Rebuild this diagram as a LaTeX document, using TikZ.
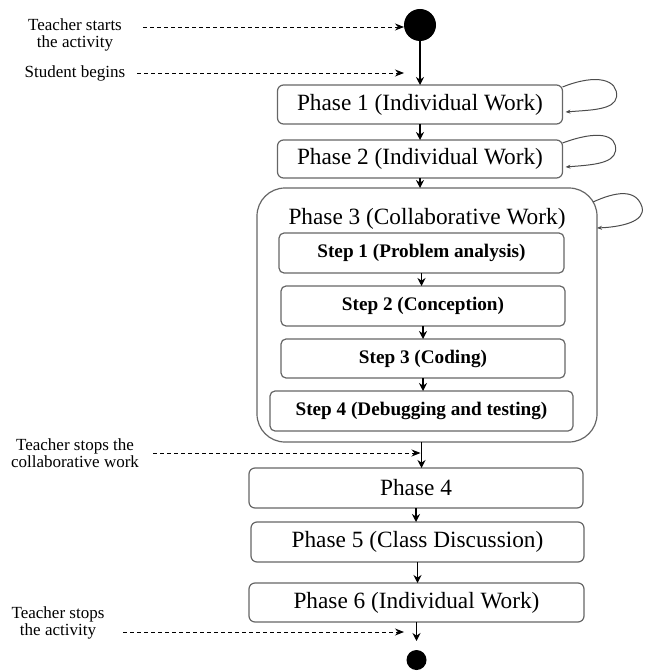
\documentclass[tikz,border=0pt]{standalone}
\usepackage{fontspec}
\setmainfont{Liberation Serif}
\usetikzlibrary{positioning,arrows.meta}

\begin{document}
\begin{tikzpicture}[
    x=1pt,
    y=-1pt,
    >=Stealth,
    every node/.style={align=center, outer sep=0pt},
    phase/.style={draw=black!60, line width=1.2pt, rectangle, rounded corners=6pt,
        font=\fontsize{23.3}{26}\selectfont},
    stepbox/.style={draw=black!60, line width=1.2pt, rectangle, rounded corners=5pt,
        minimum height=40pt, font=\fontsize{19.2}{22}\selectfont\bfseries},
    note/.style={font=\fontsize{17}{17}\selectfont},
    flow/.style={-{Stealth[length=8pt,width=8pt]}, line width=1.2pt},
    hint/.style={-{Stealth[length=9pt,width=7pt]}, line width=0.9pt, dash pattern=on 4pt off 3pt},
    selfloop/.style={-{Stealth[length=5pt,width=4pt]}, line width=1pt, draw=black!70}
]

\useasboundingbox (0,0) rectangle (646,671);

% Start
\node[circle, fill=black, minimum size=32pt, inner sep=0pt] (start) at (420,25) {};

% Phases 1 and 2
\node[
    phase,
    minimum width=285pt,
    minimum height=39pt,
    below=44pt of start
] (ph1) {Phase 1 (Individual Work)};

\node[
    phase,
    minimum width=285pt,
    minimum height=38pt,
    below=16pt of ph1
] (ph2) {Phase 2 (Individual Work)};

% Phase 3 with its steps
\node[
    phase,
    rounded corners=28pt,
    minimum width=340pt,
    minimum height=254pt,
    below=10pt of ph2,
    xshift=7pt
] (ph3) {};

\node[
    font=\fontsize{23.3}{26}\selectfont,
    inner sep=0pt,
    below=20pt of ph3.north
] (ph3title) {Phase 3 (Collaborative Work)};

\node[
    stepbox,
    minimum width=285pt,
    below=45pt of ph3.north,
    xshift=-5.5pt
] (s1) {Step 1 (Problem analysis)};

\node[
    stepbox,
    minimum width=284pt,
    below=13pt of s1,
    xshift=1.5pt
] (s2) {Step 2 (Conception)};

\node[
    stepbox,
    minimum width=284pt,
    minimum height=39pt,
    below=13pt of s2
] (s3) {Step 3 (Coding)};

\node[
    stepbox,
    minimum width=303pt,
    below=13pt of s3,
    xshift=-1.5pt
] (s4) {Step 4 (Debugging and testing)};

% Phases 4 to 6
\node[
    phase,
    minimum width=334pt,
    minimum height=40pt,
    below=26pt of ph3,
    xshift=-11pt
] (ph4) {Phase 4};

\node[
    phase,
    minimum width=333pt,
    minimum height=40pt,
    below=14pt of ph4,
    xshift=1.5pt
] (ph5) {Phase 5 (Class Discussion)};

\node[
    phase,
    minimum width=335pt,
    minimum height=39pt,
    below=21pt of ph5,
    xshift=-1pt
] (ph6) {Phase 6 (Individual Work)};

% End
\node[circle, fill=black, minimum size=20pt, inner sep=0pt, below=28pt of ph6] (endc) {};

% Notes on the left
\node[note] (tstart) at (75,35) {Teacher starts\\the activity};
\node[note] (sbegin) at (75,73) {Student begins};
\node[note] (tcollab) at (75,453) {Teacher stops the\\collaborative work};
\node[note] (tstop) at (58,623) {Teacher stops\\the activity};

\coordinate (h1) at (143,27);
\coordinate (h2) at (137,73);
\coordinate (h3) at (153,453);
\coordinate (h4) at (123,632);

% Flow
\draw[flow] (start) -- (ph1);
\draw[flow] (ph1) -- (ph2);
\draw[flow] (ph2.south) -- (ph2.south |- ph3.north);
\draw[flow] (s1.south) -- (s1.south |- s2.north);
\draw[flow] (s2.south) -- (s2.south |- s3.north);
\draw[flow] (s3.south) -- (s3.south |- s4.north);
\draw[flow] (s4.south |- ph3.south) -- (s4.south |- ph4.north);
\draw[flow] (ph4.south) -- (ph4.south |- ph5.north);
\draw[flow] (ph5.south) -- (ph5.south |- ph6.north);
\draw[flow, shorten >=9pt] (ph6.south) -- (ph6.south |- endc.north);

% Dashed hints
\draw[hint] (h1) -- (h1 -| start.west);
\draw[hint] (h2) -- (h2 -| start.west);
\draw[hint] (h3) -- ([xshift=-1pt]h3 -| s4.south);
\draw[hint] (h4) -- (h4 -| start.west);

% Self loops
\draw[selfloop] ([yshift=-2pt]ph1.north east)
    .. controls +(35,-14) and +(2,-17) .. ++(54,10)
    .. controls +(-2,13) and +(25,-2) .. ([xshift=3pt,yshift=-7.5pt]ph1.east);

\draw[selfloop] ([yshift=-3pt]ph2.north east)
    .. controls +(35,-13) and +(2,-17) .. ++(53,8)
    .. controls +(-2,13) and +(25,-2) .. ([xshift=3pt,yshift=-8pt]ph2.east);

\draw[selfloop] ([xshift=-4pt,yshift=-14pt]ph3.north east)
    .. controls +(22,-10) and +(-6,-19) .. ++(49,5)
    .. controls +(4,15) and +(23,-1) .. ([yshift=-40pt]ph3.north east);

\end{tikzpicture}
\end{document}
